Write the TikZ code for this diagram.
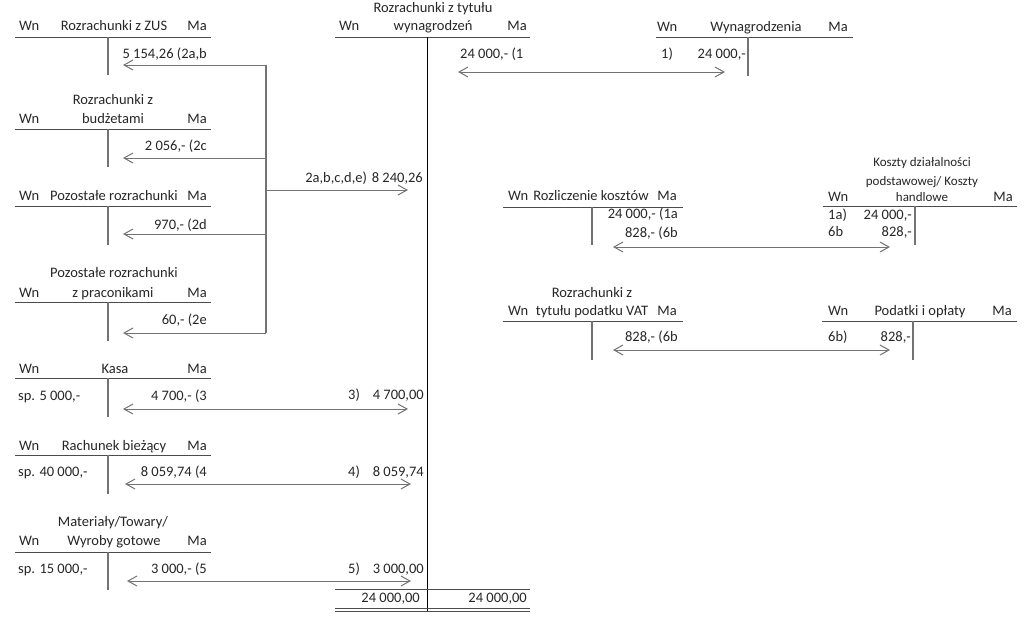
\documentclass[tikz,border=0pt]{standalone}
\usepackage{fontspec}
\setmainfont{Carlito}
\usetikzlibrary{arrows.meta}
\tikzset{
  t/.style={inner sep=0pt, font=\fontsize{14.5}{17}\selectfont, text=black!85, anchor=mid},
  ts/.style={inner sep=0pt, font=\fontsize{13}{15}\selectfont, text=black!85, anchor=mid},
  hl/.style={draw=black!70, line width=1pt},
  vl/.style={draw=black!55, line width=1.3pt},
  cv/.style={draw=black, line width=1pt},
  br/.style={draw=black!55, line width=1.2pt},
  arr/.style={draw=black!55, line width=1pt, -{Straight Barb[length=9pt,width=10pt]}},
  darr/.style={draw=black!55, line width=1pt, {Straight Barb[length=9pt,width=10pt]}-{Straight Barb[length=9pt,width=10pt]}},
}
\begin{document}
\begin{tikzpicture}[x=1pt,y=-1pt]
\useasboundingbox (0,0) rectangle (1024,616);

% ---------- Rozrachunki z ZUS
\node[t,anchor=mid west] (zusW) at (19,28) {Wn};
\node[t] (zusT) at (114,28) {Rozrachunki z ZUS};
\node[t,anchor=mid east] (zusM) at (207,28) {Ma};
\coordinate (zusL) at (15,37); \coordinate (zusR) at (211,37);
\draw[hl] (zusL) -- (zusR);
\coordinate (zusV1) at (108,37); \coordinate (zusV2) at (108,75);
\draw[vl] (zusV1) -- (zusV2);
\node[t,anchor=mid east] (zusA) at (207,56) {5 154,26 (2a,b};
\coordinate (zusTip) at (123,65);

% ---------- Rozrachunki z budzetami
\node[t] (budT1) at (113,102) {Rozrachunki z};
\node[t,anchor=mid west] (budW) at (19,121) {Wn};
\node[t] (budT) at (113,121) {budżetami};
\node[t,anchor=mid east] (budM) at (207,121) {Ma};
\coordinate (budL) at (15,129); \coordinate (budR) at (211,129);
\draw[hl] (budL) -- (budR);
\coordinate (budV1) at (108,129); \coordinate (budV2) at (108,167);
\draw[vl] (budV1) -- (budV2);
\node[t,anchor=mid east] (budA) at (207,148) {2 056,- (2c};
\coordinate (budTip) at (123,158);

% ---------- Pozostale rozrachunki
\node[t,anchor=mid west] (pozW) at (19,198) {Wn};
\node[t] (pozT) at (114,198) {Pozostałe rozrachunki};
\node[t,anchor=mid east] (pozM) at (207,198) {Ma};
\coordinate (pozL) at (15,206); \coordinate (pozR) at (211,206);
\draw[hl] (pozL) -- (pozR);
\coordinate (pozV1) at (108,206); \coordinate (pozV2) at (108,245);
\draw[vl] (pozV1) -- (pozV2);
\node[t,anchor=mid east] (pozA) at (207,227) {970,- (2d};
\coordinate (pozTip) at (123,234);

% ---------- Pozostale rozrachunki z praconikami
\node[t] (prcT1) at (114,275) {Pozostałe rozrachunki};
\node[t,anchor=mid west] (prcW) at (19,295) {Wn};
\node[t] (prcT) at (113,295) {z praconikami};
\node[t,anchor=mid east] (prcM) at (207,295) {Ma};
\coordinate (prcL) at (15,302); \coordinate (prcR) at (211,302);
\draw[hl] (prcL) -- (prcR);
\coordinate (prcV1) at (108,302); \coordinate (prcV2) at (108,341);
\draw[vl] (prcV1) -- (prcV2);
\node[t,anchor=mid east] (prcA) at (207,322) {60,- (2e};
\coordinate (prcTip) at (123,333);

% ---------- bracket 2a-e
\coordinate (brTop) at (266,65);
\coordinate (brB) at (266,158);
\coordinate (brMid) at (266,190);
\coordinate (brD) at (266,234);
\coordinate (brBot) at (266,333);
\draw[br] (brTop) -- (brBot);
\draw[arr] (brTop) -- (zusTip);
\draw[arr] (brB) -- (budTip);
\draw[arr] (brD) -- (pozTip);
\draw[arr] (brBot) -- (prcTip);
\coordinate (wynTip2) at (408,190);
\draw[arr] (brMid) -- (wynTip2);
\node[t,anchor=mid east] (wyn2) at (423,180) {2a,b,c,d,e)\hspace{1.5pt} 8 240,26};

% ---------- Kasa
\node[t,anchor=mid west] (kasW) at (19,371) {Wn};
\node[t] (kasT) at (115,371) {Kasa};
\node[t,anchor=mid east] (kasM) at (207,371) {Ma};
\coordinate (kasL) at (15,378); \coordinate (kasR) at (211,378);
\draw[hl] (kasL) -- (kasR);
\coordinate (kasV1) at (108,378); \coordinate (kasV2) at (108,417);
\draw[vl] (kasV1) -- (kasV2);
\node[t,anchor=mid west] (kasS) at (18,398) {sp. 5 000,-};
\node[t,anchor=mid east] (kasA) at (207,398) {4 700,- (3};
\coordinate (kasTip) at (123,409);
\coordinate (kasTipR) at (408,409);
\draw[darr] (kasTip) -- (kasTipR);
\node[t,anchor=mid west] (w3n) at (348,397) {3)};
\node[t,anchor=mid east] (w3) at (424,397) {4 700,00};

% ---------- Rachunek biezacy
\node[t,anchor=mid west] (rbW) at (19,448) {Wn};
\node[t] (rbT) at (114,448) {Rachunek bieżący};
\node[t,anchor=mid east] (rbM) at (207,448) {Ma};
\coordinate (rbL) at (15,455); \coordinate (rbR) at (211,455);
\draw[hl] (rbL) -- (rbR);
\coordinate (rbV1) at (108,455); \coordinate (rbV2) at (108,494);
\draw[vl] (rbV1) -- (rbV2);
\node[t,anchor=mid west] (rbS) at (18,474) {sp. 40 000,-};
\node[t,anchor=mid east] (rbA) at (207,474) {8 059,74 (4};
\coordinate (rbTip) at (125,484);
\coordinate (rbTipR) at (411,484);
\draw[darr] (rbTip) -- (rbTipR);
\node[t,anchor=mid west] (w4n) at (348,474) {4)};
\node[t,anchor=mid east] (w4) at (424,474) {8 059,74};

% ---------- Materialy
\node[t] (matT1) at (113,524) {Materiały/Towary/};
\node[t,anchor=mid west] (matW) at (19,543) {Wn};
\node[t] (matT) at (114,543) {Wyroby gotowe};
\node[t,anchor=mid east] (matM) at (207,543) {Ma};
\coordinate (matL) at (15,552); \coordinate (matR) at (211,552);
\draw[hl] (matL) -- (matR);
\coordinate (matV1) at (108,552); \coordinate (matV2) at (108,590);
\draw[vl] (matV1) -- (matV2);
\node[t,anchor=mid west] (matS) at (18,571) {sp. 15 000,-};
\node[t,anchor=mid east] (matA) at (207,571) {3 000,- (5};
\coordinate (matTip) at (127,581);
\coordinate (matTipR) at (411,581);
\draw[darr] (matTip) -- (matTipR);
\node[t,anchor=mid west] (w5n) at (348,571) {5)};
\node[t,anchor=mid east] (w5) at (424,571) {3 000,00};

% ---------- Rozrachunki z tytulu wynagrodzen
\node[t] (wynT1) at (433,10) {Rozrachunki z tytułu};
\node[t,anchor=mid west] (wynW) at (339,28) {Wn};
\node[t] (wynT) at (433,28) {wynagrodzeń};
\node[t,anchor=mid east] (wynM) at (527,28) {Ma};
\coordinate (wynL) at (335,37); \coordinate (wynR) at (530,37);
\draw[hl] (wynL) -- (wynR);
\coordinate (wynV1) at (427,37); \coordinate (wynV2) at (427,611);
\draw[cv] (wynV1) -- (wynV2);
\node[t,anchor=mid west] (wynA) at (460,56) {24 000,- (1};
\coordinate (sumL) at (335,589); \coordinate (sumR) at (530,589);
\draw[hl] (sumL) -- (sumR);
\coordinate (dbl1L) at (335,608); \coordinate (dbl1R) at (530,608);
\coordinate (dbl2L) at (335,611.5); \coordinate (dbl2R) at (530,611.5);
\draw[hl] (dbl1L) -- (dbl1R);
\draw[hl] (dbl2L) -- (dbl2R);
\node[t,anchor=mid east] (sumWn) at (420,600) {24 000,00};
\node[t,anchor=mid east] (sumMa) at (527,600) {24 000,00};

% ---------- Wynagrodzenia
\node[t,anchor=mid west] (wgW) at (657,29) {Wn};
\node[t] (wgT) at (756,29) {Wynagrodzenia};
\node[t,anchor=mid east] (wgM) at (848,29) {Ma};
\coordinate (wgL) at (656,37); \coordinate (wgR) at (853,37);
\draw[hl] (wgL) -- (wgR);
\coordinate (wgV1) at (748,37); \coordinate (wgV2) at (748,76);
\draw[vl] (wgV1) -- (wgV2);
\node[t,anchor=mid west] (wg1n) at (661,56) {1)};
\node[t,anchor=mid east] (wg1) at (746,56) {24 000,-};
\coordinate (wynTip1) at (458,72);
\coordinate (wgTip) at (725,72);
\draw[darr] (wynTip1) -- (wgTip);

% ---------- Rozliczenie kosztow
\node[t,anchor=mid west] (rkW) at (508,198) {Wn};
\node[t] (rkT) at (591,198) {Rozliczenie kosztów};
\node[t,anchor=mid east] (rkM) at (677,198) {Ma};
\coordinate (rkL) at (503,207); \coordinate (rkR) at (683,207);
\draw[hl] (rkL) -- (rkR);
\coordinate (rkV1) at (592,207); \coordinate (rkV2) at (592,245);
\draw[vl] (rkV1) -- (rkV2);
\node[t,anchor=mid east] (rkA) at (678,216) {24 000,- (1a};
\node[t,anchor=mid east] (rkB) at (678,235) {828,- (6b};
\coordinate (rkTip) at (613,247);

% ---------- Koszty dzialalnosci
\node[ts] (kdT1) at (922,164) {Koszty działalności};
\node[ts] (kdT2) at (922,183) {podstawowej/ Koszty};
\node[t,anchor=mid west] (kdW) at (828,199) {Wn};
\node[ts] (kdT) at (922,199) {handlowe};
\node[t,anchor=mid east] (kdM) at (1013,199) {Ma};
\coordinate (kdL) at (823,206); \coordinate (kdR) at (1017,206);
\draw[hl] (kdL) -- (kdR);
\coordinate (kdV1) at (915,206); \coordinate (kdV2) at (915,245);
\draw[vl] (kdV1) -- (kdV2);
\node[t,anchor=mid west] (kd1n) at (828,217) {1a)};
\node[t,anchor=mid east] (kd1) at (912,217) {24 000,-};
\node[t,anchor=mid west] (kd2n) at (828,234) {6b};
\node[t,anchor=mid east] (kd2) at (912,234) {828,-};
\coordinate (kdTip) at (890,247);
\draw[darr] (rkTip) -- (kdTip);

% ---------- Rozrachunki z tytulu podatku VAT
\node[t] (vatT1) at (592,295) {Rozrachunki z};
\node[t,anchor=mid west] (vatW) at (508,313) {Wn};
\node[t] (vatT) at (592,313) {tytułu podatku VAT};
\node[t,anchor=mid east] (vatM) at (677,313) {Ma};
\coordinate (vatL) at (503,321); \coordinate (vatR) at (683,321);
\draw[hl] (vatL) -- (vatR);
\coordinate (vatV1) at (592,321); \coordinate (vatV2) at (592,360);
\draw[vl] (vatV1) -- (vatV2);
\node[t,anchor=mid east] (vatA) at (678,339) {828,- (6b};
\coordinate (vatTip) at (613,350);

% ---------- Podatki i oplaty
\node[t,anchor=mid west] (poW) at (828,313) {Wn};
\node[t] (poT) at (920,313) {Podatki i opłaty};
\node[t,anchor=mid east] (poM) at (1012,313) {Ma};
\coordinate (poL) at (822,321); \coordinate (poR) at (1017,321);
\draw[hl] (poL) -- (poR);
\coordinate (poV1) at (913,321); \coordinate (poV2) at (913,360);
\draw[vl] (poV1) -- (poV2);
\node[t,anchor=mid west] (po1n) at (828,339) {6b)};
\node[t,anchor=mid east] (po1) at (911,339) {828,-};
\coordinate (poTip) at (890,350);
\draw[darr] (vatTip) -- (poTip);
\end{tikzpicture}
\end{document}
